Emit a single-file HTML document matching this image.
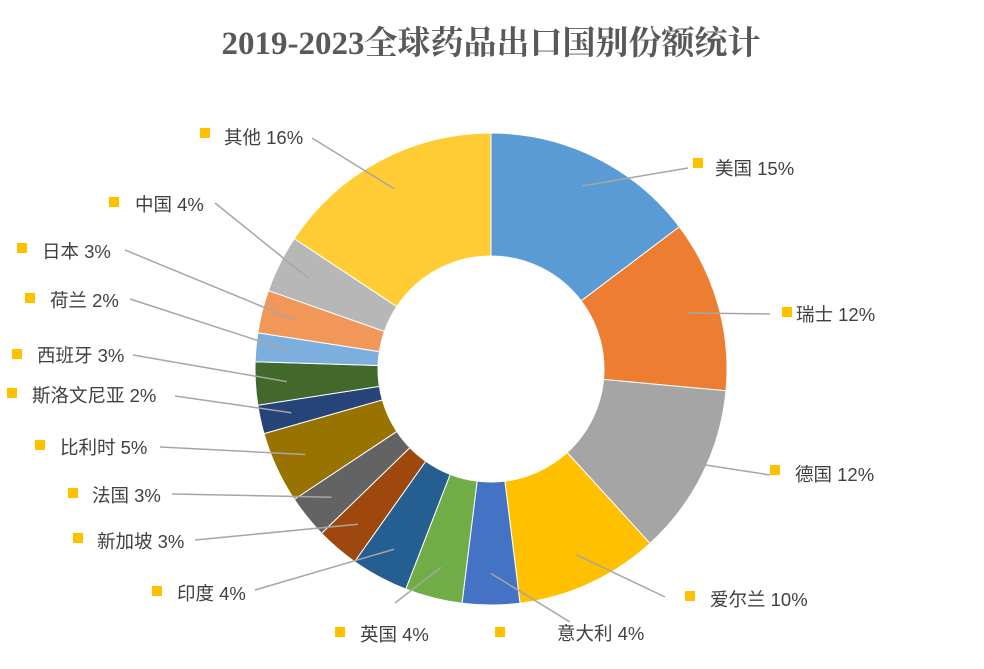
<!DOCTYPE html>
<html><head><meta charset="utf-8">
<style>
html,body{margin:0;padding:0;background:#fff;}
svg{display:block;}
text{font-family:"Liberation Sans","Noto Sans CJK SC",sans-serif;}
</style></head>
<body>
<svg id="chart" width="984" height="669" viewBox="0 0 984 669" xmlns="http://www.w3.org/2000/svg">
<text x="491" y="54" text-anchor="middle" font-size="33" font-weight="bold" fill="#595959" style="font-family:'Liberation Serif','Noto Serif CJK SC',serif">2019-2023全球药品出口国别份额统计</text>
<g id="slices"></g>
<g id="labels"></g>
</svg>
<script>
const categories = ["美国","瑞士","德国","爱尔兰","意大利","英国","印度","新加坡","法国","比利时","斯洛文尼亚","西班牙","荷兰","日本","中国","其他"];
const values = [15,12,12,10,4,4,4,3,3,5,2,3,2,3,4,16];
const colors = ["#5B9BD5","#ED7D31","#A5A5A5","#FFC000","#4472C4","#70AD47","#255E91","#9E480E","#636363","#997300","#264478","#43682B","#7CAFDD","#F1975A","#B7B7B7","#FFCD33"];
// label layout (pixel positions, not data): [squareX, squareY, textX, textY, lineEndX, lineEndY]
const labelLayout = [
 [698,163,715,175,688,168],[787,312,796,321,770,314],[775,470,795,481,770,475],
 [690,596,710,606,665,597],[500,632,557,640,570,622],[340,632,360,641,395,603],
 [157,591,177,600,255,590],[78,538,97,548,195,540],[73,493,92,502,172,494],
 [40,445,60,454,160,447],[12,393,32,402,175,396],[17,354,37,362,133,355],
 [30,298,50,307,130,299],[22,248,42,258,125,250],[114,202,135,211,215,203],
 [205,133,224,144,312,138]
];
const cx=491, cy=369, R=236, r=113;
const total = values.reduce((a,b)=>a+b,0);
const NS="http://www.w3.org/2000/svg";
const gS=document.getElementById('slices'), gL=document.getElementById('labels');
function pt(a,rad){return [cx+rad*Math.sin(a), cy-rad*Math.cos(a)];}
let acc=0;
values.forEach((v,i)=>{
  const a0=acc/total*2*Math.PI; acc+=v; const a1=acc/total*2*Math.PI;
  const large=(a1-a0)>Math.PI?1:0;
  const p0=pt(a0,R),p1=pt(a1,R),q1=pt(a1,r),q0=pt(a0,r);
  const p=document.createElementNS(NS,'path');
  p.setAttribute('d',`M${p0[0]},${p0[1]}A${R},${R} 0 ${large} 1 ${p1[0]},${p1[1]}L${q1[0]},${q1[1]}A${r},${r} 0 ${large} 0 ${q0[0]},${q0[1]}Z`);
  p.setAttribute('fill',colors[i]);
  p.setAttribute('stroke','#fff');p.setAttribute('stroke-width','1');
  
  
  gS.appendChild(p);
  const am=(a0+a1)/2, m=pt(am,(R+r)/2+30);
  const L=labelLayout[i];
  const ln=document.createElementNS(NS,'polyline');
  ln.setAttribute('points',`${m[0]},${m[1]} ${L[4]},${L[5]}`);
  ln.setAttribute('fill','none');ln.setAttribute('stroke','#A6A6A6');ln.setAttribute('stroke-width','1.5');
  
  
  gL.appendChild(ln);
  const sq=document.createElementNS(NS,'rect');
  sq.setAttribute('x',L[0]-5);sq.setAttribute('y',L[1]-5);sq.setAttribute('width',10);sq.setAttribute('height',10);
  sq.setAttribute('fill','#FFC000');
  
  
  gL.appendChild(sq);
  const t=document.createElementNS(NS,'text');
  t.setAttribute('x',L[2]);t.setAttribute('y',L[3]);t.setAttribute('font-size','18.5');t.setAttribute('fill','#404040');
  t.textContent=categories[i]+' '+v+'%';
  
  
  gL.appendChild(t);
});
</script>
</body></html>
